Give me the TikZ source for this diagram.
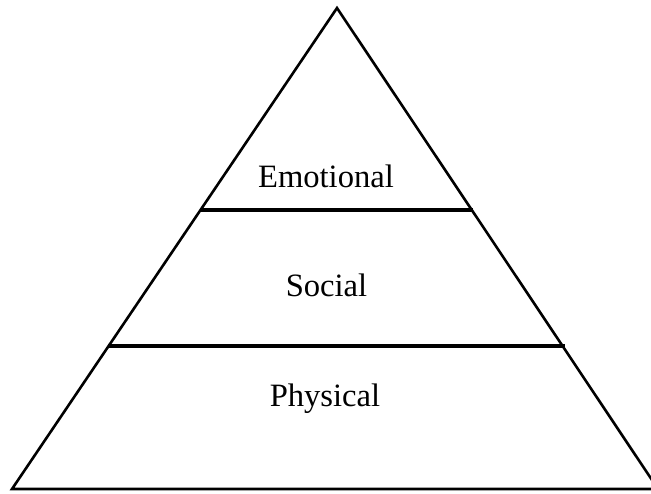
\documentclass[tikz,border=0pt]{standalone}
\usepackage{fontspec}
\setmainfont{Liberation Serif}

\begin{document}
\begin{tikzpicture}[x=1pt,y=-1pt,
    edge/.style={line width=2.6pt,line join=miter},
    tier/.style={line width=3.4pt},
    level/.style={anchor=base,inner sep=0pt,font=\fontsize{32.6}{39}\selectfont}]
    \useasboundingbox (0,0) rectangle (651,493);
    \coordinate (apex) at (337,8);
    \coordinate (baseL) at (12,489);
    \coordinate (baseR) at (658,489);
    \coordinate (midL) at (200,210);
    \coordinate (midR) at (473,210);
    \coordinate (lowL) at (108,346);
    \coordinate (lowR) at (565,346);
    \draw[edge] (baseR) -- (apex) -- (baseL) -- cycle;
    \draw[tier] (midL) -- (midR);
    \draw[tier] (lowL) -- (lowR);
    \node[level] (emotional) at (326,187) {Emotional};
    \node[level] (social) at (326.5,296) {Social};
    \node[level] (physical) at (325,406) {Physical};
\end{tikzpicture}
\end{document}
